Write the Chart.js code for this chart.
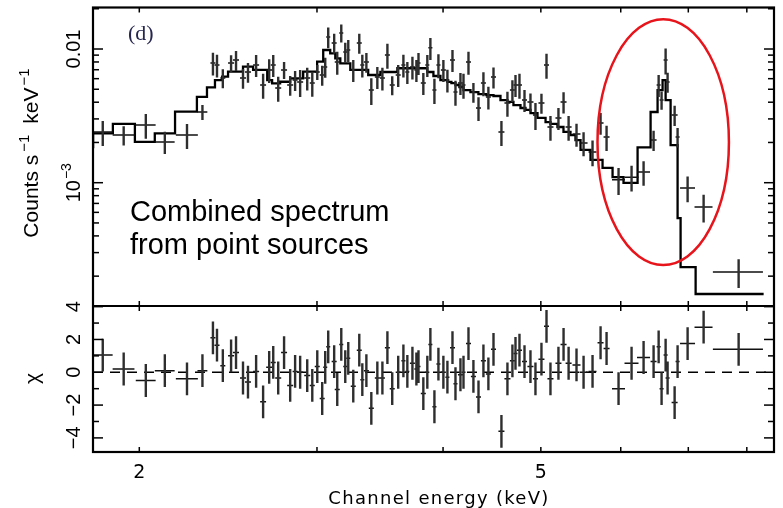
<!DOCTYPE html>
<html><head><meta charset="utf-8">
<script src="https://cdn.jsdelivr.net/npm/chart.js@4.4.1/dist/chart.umd.min.js"></script>
<style>html,body{margin:0;padding:0;background:#fff;overflow:hidden}</style>
</head><body>
<canvas id="c" width="783" height="508" style="display:block;width:783px;height:508px"></canvas>
<script>
// ---- data ----
const energy = [1.84,1.93,2.03,2.12,2.23,2.31,2.366,2.388,2.42,2.466,
 2.494,2.534,2.563,2.611,2.653,2.69,2.715,2.746,2.783,2.822,
 2.854,2.887,2.934,2.968,3.002,3.036,3.057,3.078,3.12,3.142,
 3.171,3.2,3.222,3.259,3.304,3.327,3.358,3.396,3.443,3.483,
 3.523,3.562,3.611,3.654,3.687,3.73,3.764,3.782,3.824,3.859,
 3.886,3.922,3.958,4.003,4.04,4.087,4.115,4.162,4.191,4.239,
 4.287,4.337,4.386,4.436,4.488,4.57,4.633,4.686,4.719,4.762,
 4.817,4.883,4.939,5.007,5.065,5.111,5.205,5.266,5.327,5.424,
 5.512,5.626,5.73,5.809,5.97,6.15,6.321,6.467,6.542,6.586,
 6.647,6.677,6.785,6.831,6.989,7.249,7.852];
const energyErr = [0.042,0.048,0.046,0.048,0.056,0.026,0.0135,0.0136,0.0138,0.0169,
 0.017,0.0173,0.0175,0.0179,0.018,0.0184,0.0155,0.0188,0.019,0.0193,
 0.0163,0.0198,0.02,0.0169,0.0171,0.0173,0.014,0.014,0.0178,0.0179,
 0.0145,0.0146,0.0147,0.0186,0.0188,0.0152,0.0191,0.0194,0.0196,0.0199,
 0.0201,0.0203,0.0206,0.0167,0.0168,0.0213,0.0172,0.0172,0.0218,0.0176,
 0.0177,0.0179,0.018,0.0228,0.0184,0.0233,0.0188,0.0237,0.0191,0.0242,
 0.0245,0.0247,0.025,0.0253,0.0256,0.0313,0.0317,0.0267,0.0215,0.0272,
 0.0275,0.0334,0.0282,0.0343,0.0289,0.035,0.0356,0.036,0.0365,0.0495,
 0.0503,0.0513,0.0392,0.0397,0.0886,0.0982,0.0938,0.0443,0.0299,0.03,
 0.0303,0.0305,0.0464,0.0312,0.1196,0.1489,0.448];
const flux = [2.39e-3,2.27e-3,2.70e-3,2.02e-3,2.27e-3,3.38e-3,7.86e-3,7.59e-3,6.07e-3,7.86e-3,
 8.27e-3,6.07e-3,6.73e-3,7.59e-3,5.38e-3,6.97e-3,7.59e-3,5.11e-3,6.97e-3,5.38e-3,
 5.86e-3,5.67e-3,6.07e-3,5.57e-3,6.73e-3,6.39e-3,7.34e-3,0.0123,0.0111,7.99e-3,
 0.0132,9.50e-3,9.83e-3,6.97e-3,0.0111,7.59e-3,7.99e-3,4.93e-3,6.17e-3,6.07e-3,
 9.02e-3,5.38e-3,6.39e-3,7.59e-3,6.73e-3,7.34e-3,6.97e-3,7.86e-3,5.57e-3,7.59e-3,
 0.0102,4.93e-3,7.59e-3,6.97e-3,5.86e-3,8.27e-3,4.77e-3,5.57e-3,5.38e-3,7.99e-3,
 4.77e-3,3.62e-3,5.57e-3,4.38e-3,6.17e-3,2.39e-3,3.95e-3,4.93e-3,5.38e-3,5.38e-3,
 4.16e-3,4.02e-3,3.21e-3,3.95e-3,7.59e-3,2.61e-3,3.05e-3,4.02e-3,2.61e-3,2.31e-3,
 1.98e-3,1.70e-3,2.80e-3,2.20e-3,1.05e-3,1.10e-3,1.20e-3,2.09e-3,5.38e-3,4.16e-3,
 8.27e-3,5.67e-3,3.21e-3,2.20e-3,9.13e-4,6.58e-4,2.15e-4];
const fluxErr = [5.1e-4,3.7e-4,5.7e-4,3.8e-4,4.8e-4,4.3e-4,1.53e-3,1.48e-3,9.8e-4,1.14e-3,
 1.41e-3,1.03e-3,1.14e-3,1.42e-3,1.14e-3,1.41e-3,1.42e-3,1.08e-3,1.01e-3,9.1e-4,
 1.0e-3,1.29e-3,1.18e-3,1.18e-3,8.6e-4,1.09e-3,1.25e-3,2.19e-3,1.89e-3,1.56e-3,
 2.02e-3,1.62e-3,1.84e-3,1.30e-3,1.89e-3,1.48e-3,1.36e-3,1.12e-3,1.15e-3,1.18e-3,
 1.91e-3,8.7e-4,1.19e-3,1.48e-3,1.26e-3,1.43e-3,1.30e-3,1.47e-3,1.04e-3,1.42e-3,
 1.91e-3,1.05e-3,1.54e-3,1.30e-3,1.14e-3,1.55e-3,1.01e-3,1.04e-3,1.14e-3,1.56e-3,
 8.1e-4,7.3e-4,1.13e-3,8.5e-4,1.10e-3,5.1e-4,8.4e-4,9.2e-4,1.01e-3,1.14e-3,
 7.8e-4,6.2e-4,7.3e-4,6.7e-4,1.61e-3,5.5e-4,5.7e-4,7.2e-4,5.5e-4,4.5e-4,
 4.0e-4,3.7e-4,5.2e-4,4.7e-4,2.4e-4,2.4e-4,2.5e-4,3.6e-4,1.0e-3,6.4e-4,
 1.82e-3,9.6e-4,5.5e-4,3.7e-4,2.0e-4,1.55e-4,5.2e-5];
const chi = [1.05,0.2,-0.5,0.1,-0.4,0.1,2.1,1.65,0.4,1.0,
 1.2,-0.35,-0.6,0.05,-1.8,0.3,0.6,-0.35,1.2,-0.8,
 0.05,0.0,-0.2,-0.8,0.35,-1.6,0.3,1.55,0.65,-1.05,
 1.7,0.35,0.85,-0.85,1.35,-0.45,0.1,-2.2,-0.35,-0.35,
 1.5,-1.0,0.0,0.7,0.05,0.55,0.2,0.35,-1.3,0.0,
 1.7,-2.1,0.5,0.0,-0.3,1.5,-0.7,-0.15,0.0,1.75,
 -0.25,-1.5,0.7,-0.1,1.4,-3.6,-0.4,0.7,1.15,1.35,
 0.65,0.35,-0.4,0.8,2.8,-0.4,0.55,1.7,0.55,0.45,
 0.0,0.05,1.8,1.45,-1.0,0.55,0.9,0.65,1.55,-1.0,
 1.05,-0.35,-1.85,0.65,1.75,2.75,1.4];
const chiErr = 1; // residual error bars are +/-1 sigma
// model (folded) step histogram: bin edges and levels
const modelEdges = [1.80,1.883,1.980,2.072,2.170,2.281,2.334,2.377,2.416,2.449,
 2.534,2.593,2.678,2.708,2.758,2.822,2.907,3.001,3.043,3.092,
 3.128,3.164,3.237,3.372,3.467,3.604,3.859,3.913,3.976,4.040,
 4.077,4.115,4.152,4.191,4.258,4.336,4.416,4.488,4.560,4.633,
 4.697,4.773,4.828,4.883,4.962,5.054,5.111,5.193,5.265,5.350,
 5.411,5.474,5.600,5.756,5.889,6.038,6.235,6.423,6.526,6.601,
 6.647,6.723,6.831,6.878,7.118,7.417,8.313];
const modelLevels = [1.81e-3,2.34e-3,2.75e-3,2.02e-3,2.34e-3,3.40e-3,4.39e-3,5.17e-3,5.86e-3,6.21e-3,
 6.77e-3,7.38e-3,6.97e-3,5.86e-3,5.54e-3,5.69e-3,6.04e-3,6.77e-3,8.04e-3,9.83e-3,
 9.29e-3,8.52e-3,7.82e-3,6.97e-3,6.39e-3,6.73e-3,7.18e-3,6.73e-3,6.28e-3,5.86e-3,
 5.67e-3,5.56e-3,5.38e-3,5.20e-3,4.93e-3,4.76e-3,4.60e-3,4.52e-3,4.45e-3,4.15e-3,
 4.02e-3,3.81e-3,3.62e-3,3.50e-3,3.32e-3,3.05e-3,2.84e-3,2.75e-3,2.61e-3,2.40e-3,
 2.27e-3,2.08e-3,1.76e-3,1.48e-3,1.29e-3,1.10e-3,9.97e-4,1.84e-3,3.38e-3,4.93e-3,
 5.86e-3,4.15e-3,1.91e-3,5.44e-4,2.34e-4,1.47e-4];
// axes
const xRange = [1.7995, 8.512];
const fluxRange = [1.196e-4, 0.02044];
const chiRange = [-4.86, 4.04];
const xTicks = [2,3,4,5,6,7,8];
const xTickLabels = [2,5];
const chiTicks = [-4,-3,-2,-1,0,1,2,3,4];
const chiTickLabels = [4,2,0,-2,-4];
const highlight = {eLo:5.69, eHi:7.68, fLo:2.42e-4, fHi:0.0167};

// ---- build datasets ----
const hTop=[], vTop=[], hBot=[], vBot=[];
for (let i=0;i<energy.length;i++){
  const e=energy[i], de=energyErr[i];
  hTop.push({x:e-de,y:flux[i]},{x:e+de,y:flux[i]},{x:e,y:null});
  vTop.push({x:e,y:flux[i]-fluxErr[i]},{x:e,y:flux[i]+fluxErr[i]},{x:e,y:null});
  hBot.push({x:e-de,y:chi[i]},{x:e+de,y:chi[i]},{x:e,y:null});
  vBot.push({x:e,y:chi[i]-chiErr},{x:e,y:chi[i]+chiErr},{x:e,y:null});
}
const model = modelEdges.map((e,i)=>({x:e,y:modelLevels[Math.min(i,modelLevels.length-1)]}));
const zero = [{x:xRange[0],y:0},{x:xRange[1],y:0}];

const base = {type:'line',pointRadius:0,pointHoverRadius:0,fill:false,spanGaps:false,tension:0};
const hiddenAxis = {display:true,ticks:{display:false},grid:{display:false,drawTicks:false},border:{display:false},title:{display:false}};

const overlay = {
  id:'overlay',
  afterDraw(chart){
    const {ctx, chartArea:ca, scales} = chart;
    const x=scales.x, yT=scales.yTop, yB=scales.yBot;
    const mid = yT.bottom;
    const L=(a,b,c,d)=>{ctx.beginPath();ctx.moveTo(a,b);ctx.lineTo(c,d);ctx.stroke();};
    ctx.save();
    ctx.strokeStyle='#000';
    // x ticks
    ctx.lineWidth=1.5;
    for (const v of xTicks){
      const p=x.getPixelForValue(v);
      L(p,ca.top,p,ca.top+5); L(p,mid-5,p,mid+5); L(p,ca.bottom,p,ca.bottom-5);
    }
    // log y ticks (top panel)
    for (let n=-4;n<=-1;n++){
      for (let k=1;k<=9;k++){
        const v=k*Math.pow(10,n);
        if (v<fluxRange[0]||v>fluxRange[1]) continue;
        const p=yT.getPixelForValue(v), len=(k===1)?10:6;
        L(ca.left,p,ca.left+len,p); L(ca.right,p,ca.right-len,p);
      }
    }
    // chi ticks
    for (const v of chiTicks){
      const p=yB.getPixelForValue(v), len=(v%2===0)?10:6;
      L(ca.left,p,ca.left+len,p); L(ca.right,p,ca.right-len,p);
    }
    // frame
    ctx.lineWidth=2.2;
    ctx.strokeRect(ca.left,ca.top,ca.right-ca.left,ca.bottom-ca.top);
    L(ca.left,mid,ca.right,mid);

    // rotated text helper
    const rot=(px,py,parts,fam)=>{
      fam=fam||'"Liberation Sans"';
      ctx.save(); ctx.translate(px,py); ctx.rotate(-Math.PI/2);
      let w=0; for(const p of parts){ctx.font=p.size+'px '+fam; w+=ctx.measureText(p.t).width+(p.gap||0);}
      let u=-w/2;
      ctx.textBaseline='alphabetic'; ctx.textAlign='left';
      for(const p of parts){ctx.font=p.size+'px '+fam; u+=(p.gap||0); ctx.fillText(p.t,u,-(p.raise||0)); u+=ctx.measureText(p.t).width;}
      ctx.restore();
    };
    ctx.fillStyle='#000';
    rot(80,yT.getPixelForValue(0.01),[{t:'0.01',size:20}]);
    rot(80,yT.getPixelForValue(0.001),[{t:'10',size:20},{t:'\u22123',size:14,raise:9,gap:1}]);
    for (const v of chiTickLabels){
      rot(80,yB.getPixelForValue(v),[{t:(v<0?'\u2212':'')+Math.abs(v),size:20}]);
    }
    rot(38,153,[{t:'Counts s',size:21},{t:'\u22121',size:15,raise:9,gap:3},{t:'keV',size:21,gap:11},{t:'\u22121',size:15,raise:9,gap:2}]);
    rot(38.5,378.5,[{t:'\u03c7',size:21}]);
    ctx.textAlign='center'; ctx.textBaseline='alphabetic';
    ctx.font='19px "DejaVu Sans"';
    for (const v of xTickLabels) ctx.fillText(String(v), x.getPixelForValue(v), 478);
    ctx.font='18px "DejaVu Sans"';
    try { ctx.letterSpacing='1.3px'; } catch(e) {}
    ctx.fillText('Channel energy (keV)', 439, 504);
    try { ctx.letterSpacing='0px'; } catch(e) {}
    // panel tag
    ctx.font='22px "Liberation Serif"'; ctx.textAlign='left'; ctx.fillStyle='#262650';
    ctx.fillText('(d)',128,40);
    // annotation text
    ctx.fillStyle='#000'; ctx.font='29px "Liberation Sans"';
    ctx.fillText('Combined spectrum',130,221);
    ctx.fillText('from point sources',130,254);
    // highlight ellipse
    const x1=x.getPixelForValue(highlight.eLo), x2=x.getPixelForValue(highlight.eHi);
    const y1=yT.getPixelForValue(highlight.fHi), y2=yT.getPixelForValue(highlight.fLo);
    ctx.strokeStyle='#e8141b'; ctx.lineWidth=2.5;
    ctx.beginPath(); ctx.ellipse((x1+x2)/2,(y1+y2)/2,(x2-x1)/2,(y2-y1)/2,0,0,Math.PI*2); ctx.stroke();
    ctx.restore();
  }
};

new Chart(document.getElementById('c'), {
  data:{datasets:[
    Object.assign({},base,{data:vTop,yAxisID:'yTop',borderColor:'#2e2e2e',borderWidth:2.4}),
    Object.assign({},base,{data:hTop,yAxisID:'yTop',borderColor:'#111',borderWidth:1.5}),
    Object.assign({},base,{data:vBot,yAxisID:'yBot',borderColor:'#2e2e2e',borderWidth:2.4}),
    Object.assign({},base,{data:hBot,yAxisID:'yBot',borderColor:'#111',borderWidth:1.5}),
    Object.assign({},base,{data:model,yAxisID:'yTop',borderColor:'#000',borderWidth:2.3,stepped:'after'}),
    Object.assign({},base,{data:zero,yAxisID:'yBot',borderColor:'#000',borderWidth:1.5,borderDash:[10,7]})
  ]},
  options:{
    responsive:false, animation:false, devicePixelRatio:1,
    layout:{padding:{left:93,right:9,top:7.5,bottom:56}},
    plugins:{legend:{display:false},tooltip:{enabled:false}},
    events:[],
    scales:{
      x:Object.assign({type:'logarithmic',position:'bottom',min:xRange[0],max:xRange[1]},hiddenAxis),
      yBot:Object.assign({type:'linear',position:'left',stack:'panels',stackWeight:146,min:chiRange[0],max:chiRange[1]},hiddenAxis),
      yTop:Object.assign({type:'logarithmic',position:'left',stack:'panels',stackWeight:298.5,min:fluxRange[0],max:fluxRange[1]},hiddenAxis)
    }
  },
  plugins:[overlay]
});
</script></body></html>
